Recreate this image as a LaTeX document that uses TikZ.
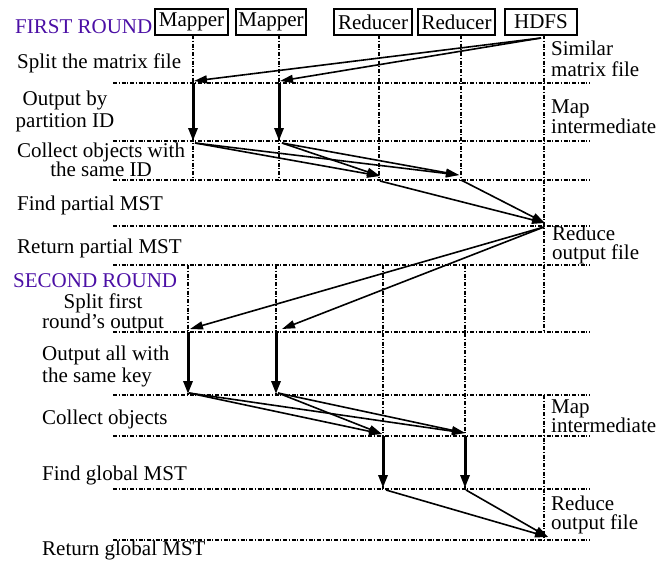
\documentclass[tikz,border=0pt]{standalone}
\usepackage{fontspec}
\setmainfont{Liberation Serif}
\usetikzlibrary{arrows.meta}
\definecolor{roundcol}{RGB}{75,15,165}
\begin{document}
\begin{tikzpicture}[x=1pt,y=-1pt,
  font=\fontsize{21}{21}\selectfont,
  box/.style={draw,line width=1.5pt,inner sep=0pt,minimum height=26pt},
  grid/.style={line width=1.3pt,dash pattern=on 4pt off 1.6pt on 1.3pt off 1.6pt},
  msg/.style={line width=1.6pt,-{Triangle[length=13pt,width=8pt]}},
  work/.style={line width=3pt,-{Triangle[length=13pt,width=9pt]}},
  lab/.style={inner sep=0pt,anchor=base west},
  clab/.style={inner sep=0pt,anchor=base},
  roundtitle/.style={inner sep=0pt,anchor=base west,text=roundcol}]
\useasboundingbox (0,0) rectangle (672,560);

% participants
\node[box,minimum width=73pt] (m1) at (191.5,22) {Mapper};
\node[box,minimum width=70pt] (m2) at (271,22) {Mapper};
\node[box,minimum width=78pt] (r1) at (373,22) {Reducer};
\node[box,minimum width=77pt] (r2) at (456.5,22) {Reducer};
\node[box,minimum width=72pt] (hdfs) at (541,22) {HDFS};

% phase separators
\foreach \y in {83,141,180,226,265,332,395,436,489,540}
  \draw[grid] (113,\y) -- (590,\y);

% life lines, first round
\draw[grid] (193,35) -- (193,180);
\draw[grid] (279,35) -- (279,180);
\draw[grid] (379,35) -- (379,180);
\draw[grid] (461,35) -- (461,180);
\draw[grid] (544,35) -- (544,332);
% life lines, second round
\draw[grid] (188,265) -- (188,395);
\draw[grid] (276,265) -- (276,395);
\draw[grid] (383,265) -- (383,489);
\draw[grid] (465,265) -- (465,489);
\draw[grid] (544,395) -- (544,540);

% first round points
\coordinate (hs) at (541,38);
\coordinate (a1) at (194,81);
\coordinate (a2) at (280,81);
\coordinate (b1) at (193,83);
\coordinate (b2) at (279,83);
\coordinate (c1) at (193,141);
\coordinate (c2) at (279,141);
\coordinate (d1) at (195,143);
\coordinate (d2) at (282,143);
\coordinate (e1) at (380,176);
\coordinate (e2) at (459,175);
\coordinate (f1) at (380,181);
\coordinate (f2) at (461,180);
\coordinate (g) at (545,223);
% second round points
\coordinate (gs) at (544,227);
\coordinate (p1) at (190,329);
\coordinate (p2) at (282,329);
\coordinate (q1) at (188,332);
\coordinate (q2) at (276,332);
\coordinate (u1) at (188,394);
\coordinate (u2) at (276,394);
\coordinate (v1) at (189,393);
\coordinate (v2) at (278,393);
\coordinate (w1) at (382,434);
\coordinate (w2) at (465,433);
\coordinate (x1) at (383,436);
\coordinate (x2) at (465,436);
\coordinate (y1) at (383,488);
\coordinate (y2) at (465,488);
\coordinate (z1) at (386,490);
\coordinate (z2) at (466,490);
\coordinate (h) at (548,537);

% first round messages
\draw[msg] (hs) -- (a1);
\draw[msg] (hs) -- (a2);
\draw[work] (b1) -- (c1);
\draw[work] (b2) -- (c2);
\draw[msg] (d1) -- (e1);
\draw[msg] (d1) -- (e2);
\draw[msg] (d2) -- (e1);
\draw[msg] (d2) -- (e2);
\draw[msg] (f1) -- (g);
\draw[msg] (f2) -- (g);
% second round messages
\draw[msg] (gs) -- (p1);
\draw[msg] (gs) -- (p2);
\draw[work] (q1) -- (u1);
\draw[work] (q2) -- (u2);
\draw[msg] (v1) -- (w1);
\draw[msg] (v1) -- (w2);
\draw[msg] (v2) -- (w1);
\draw[msg] (v2) -- (w2);
\draw[work] (x1) -- (y1);
\draw[work] (x2) -- (y2);
\draw[msg] (z1) -- (h);
\draw[msg] (z2) -- (h);

% step labels, first round
\node[roundtitle] (t1) at (15,33) {FIRST ROUND};
\node[lab] (l1) at (17,68) {Split the matrix file};
\node[clab] (l2) at (65,105) {\begin{tabular}[t]{@{}c@{}}Output by\\[1pt]partition ID\end{tabular}};
\node[clab] (l3) at (101,157) {\begin{tabular}[t]{@{}c@{}}Collect objects with\\[-2pt]the same ID\end{tabular}};
\node[lab] (l4) at (17,210) {Find partial MST};
\node[lab] (l5) at (17,253) {Return partial MST};
% step labels, second round
\node[roundtitle] (t2) at (13,287) {SECOND ROUND};
\node[clab] (l6) at (103,308) {\begin{tabular}[t]{@{}c@{}}Split first\\[-1pt]round's output\end{tabular}};
\node[lab] (l7) at (42,360) {\begin{tabular}[t]{@{}l@{}}Output all with\\[1pt]the same key\end{tabular}};
\node[lab] (l8) at (42,424) {Collect objects};
\node[lab] (l9) at (42,480) {Find global MST};
\node[lab] (l10) at (42,555) {Return global MST};

% file labels
\node[lab] (f1l) at (551,55) {\begin{tabular}[t]{@{}l@{}}Similar\\matrix file\end{tabular}};
\node[lab] (f2l) at (551,113) {\begin{tabular}[t]{@{}l@{}}Map\\[-1pt]intermediate\end{tabular}};
\node[lab] (f3l) at (552,240) {\begin{tabular}[t]{@{}l@{}}Reduce\\[-2pt]output file\end{tabular}};
\node[lab] (f4l) at (551,413) {\begin{tabular}[t]{@{}l@{}}Map\\[-2pt]intermediate\end{tabular}};
\node[lab] (f5l) at (551,510) {\begin{tabular}[t]{@{}l@{}}Reduce\\[-2pt]output file\end{tabular}};
\end{tikzpicture}
\end{document}
